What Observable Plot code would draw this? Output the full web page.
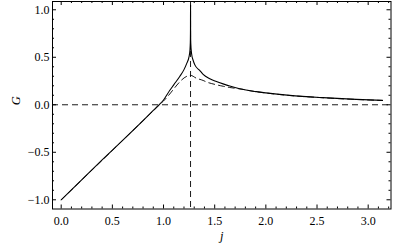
<!DOCTYPE html>
<html>
<head>
<meta charset="utf-8">
<script src="https://cdn.jsdelivr.net/npm/d3@7"></script>
<script src="https://cdn.jsdelivr.net/npm/@observablehq/plot@0.6"></script>
<style>
  body { margin: 0; background: #fff; }
  svg, svg text { font-family: "Liberation Serif", "Times New Roman", serif !important; }
</style>
</head>
<body>
<div id="chart"></div>
<script>
// Solid curve G(j)
const solidJ = [0, 0.2, 0.4, 0.6, 0.8, 0.9, 0.95, 1.0, 1.06, 1.1, 1.16, 1.2, 1.225, 1.25, 1.258, 1.262, 1.2635, 1.264, 1.2645, 1.266, 1.274, 1.29, 1.306, 1.355, 1.387, 1.452, 1.517, 1.582, 1.647, 1.745, 1.907, 2.0, 2.232, 2.557, 2.882, 3.14];
const solidG = [-1, -0.79, -0.58, -0.375, -0.167, -0.06, -0.006, 0.05, 0.15, 0.21, 0.30, 0.37, 0.43, 0.51, 0.57, 0.66, 0.8, 1.05, 0.8, 0.65, 0.54, 0.466, 0.42, 0.36, 0.32, 0.274, 0.245, 0.22, 0.197, 0.168, 0.138, 0.125, 0.099, 0.075, 0.057, 0.046];

// Dashed curve
const dashJ = [0, 0.5, 1.0, 1.264, 1.32, 1.387, 1.42, 1.5, 1.582, 1.647, 1.745, 1.907, 2.0, 2.232, 2.557, 2.882, 3.14];
const dashG = [-1, -0.48, 0.04, 0.31, 0.28, 0.256, 0.24, 0.215, 0.195, 0.182, 0.167, 0.137, 0.124, 0.098, 0.074, 0.056, 0.045];

// Reference lines
const hLine = [0];
const vLine = [1.264];

// Ticks
const xMajor = [0, 0.5, 1, 1.5, 2, 2.5, 3];
const xMinor = [0.1, 0.2, 0.3, 0.4, 0.6, 0.7, 0.8, 0.9, 1.1, 1.2, 1.3, 1.4, 1.6, 1.7, 1.8, 1.9, 2.1, 2.2, 2.3, 2.4, 2.6, 2.7, 2.8, 2.9, 3.1, 3.2];
const yMajor = [-1, -0.5, 0, 0.5, 1];
const yMinor = [-0.9, -0.8, -0.7, -0.6, -0.4, -0.3, -0.2, -0.1, 0.1, 0.2, 0.3, 0.4, 0.6, 0.7, 0.8, 0.9];

const xLabel = "j";
const yLabel = "G";

const solid = solidJ.map((j, i) => ({j, G: solidG[i]}));
const dashed = dashJ.map((j, i) => ({j, G: dashG[i]}));
const fmt = d => d.toFixed(1).replace("-", "\u2212");

const W = 399, H = 247, ML = 52, MR = 8.5, MT = 1, MB = 38.5;
const FW = W - ML - MR, FH = H - MT - MB;
const MAJ = 4, MIN = 2;
const tk = {stroke: "black", strokeWidth: 1};

const plot = Plot.plot({
  width: W,
  height: H,
  marginLeft: ML,
  marginRight: MR,
  marginTop: MT,
  marginBottom: MB,
  style: {fontFamily: "Liberation Serif", fontSize: "12px", background: "white", color: "black"},
  x: {domain: [-0.085, 3.223]},
  y: {domain: [-1.097, 1.087]},
  marks: [
    Plot.ruleY(hLine, {stroke: "black", strokeWidth: 0.9, strokeDasharray: "6,4"}),
    Plot.ruleX(vLine, {stroke: "black", strokeWidth: 0.9, strokeDasharray: "6,4"}),
    Plot.line(dashed, {x: "j", y: "G", curve: "monotone-x", stroke: "black", strokeWidth: 0.9, strokeDasharray: "6,4"}),
    Plot.line(solid, {x: "j", y: "G", curve: "monotone-x", stroke: "black", strokeWidth: 1.1}),
    // tick labels
    Plot.axisX({ticks: xMajor, anchor: "bottom", tickSize: 0, tickPadding: 7, tickFormat: fmt, label: null}),
    Plot.axisY({ticks: yMajor, anchor: "left", tickSize: 0, tickPadding: 3, tickFormat: fmt, label: null}),
    // inward tick marks (bottom, top, left, right)
    Plot.ruleX(xMajor, {...tk, insetTop: FH - MAJ}),
    Plot.ruleX(xMinor, {...tk, insetTop: FH - MIN}),
    Plot.ruleX(xMajor, {...tk, insetBottom: FH - MAJ}),
    Plot.ruleX(xMinor, {...tk, insetBottom: FH - MIN}),
    Plot.ruleY(yMajor, {...tk, insetRight: FW - MAJ}),
    Plot.ruleY(yMinor, {...tk, insetRight: FW - MIN}),
    Plot.ruleY(yMajor, {...tk, insetLeft: FW - MAJ}),
    Plot.ruleY(yMinor, {...tk, insetLeft: FW - MIN}),
    Plot.frame({stroke: "black", strokeWidth: 1}),
    Plot.text([xLabel], {frameAnchor: "bottom", dy: 31, fontStyle: "italic", fontSize: 12.5}),
    Plot.text([yLabel], {frameAnchor: "left", dx: -37, rotate: -90, fontStyle: "italic", fontSize: 12.5})
  ]
});
document.getElementById("chart").appendChild(plot);
</script>
</body>
</html>
